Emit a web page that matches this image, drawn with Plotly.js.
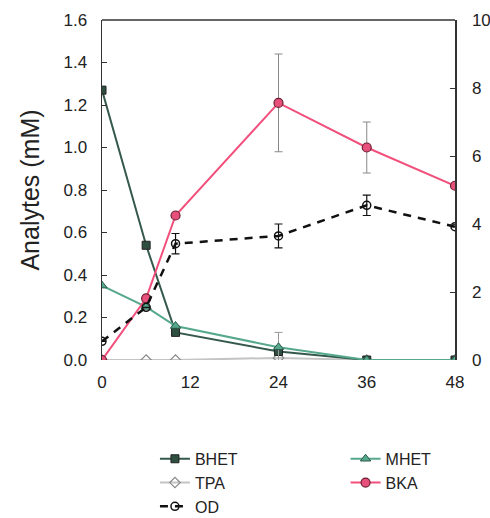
<!DOCTYPE html>
<html><head><meta charset="utf-8">
<script src="https://cdn.plot.ly/plotly-3.0.1.min.js"></script>
<style>body{margin:0;background:#fff}#g{width:490px;height:518px}</style>
</head><body><div id="g"></div>
<script>
const time = [0, 6, 10, 24, 36, 48];
const bhet = [1.27, 0.54, 0.13, 0.04, 0.0, 0.0];
const mhet = [0.35, 0.25, 0.16, 0.06, 0.0, 0.0];
const mhetErr = [0, 0, 0, 0.07, 0, 0];
const tpa = [0, 0, 0, 0.01, 0, 0];
const bka = [0.0, 0.29, 0.68, 1.21, 1.0, 0.82];
const bkaErr = [0, 0, 0, 0.23, 0.12, 0];
const od = [0.55, 1.55, 3.42, 3.65, 4.55, 3.92];
const odErr = [0, 0, 0.3, 0.35, 0.3, 0];
const xTicks = [0, 12, 24, 36, 48];

const f = 'Liberation Sans, Arial, sans-serif';
const traces = [
  {x: time, y: tpa, name: 'TPA', mode: 'lines+markers', line: {color: '#c4c4c4', width: 2},
   marker: {symbol: 'diamond-open', size: 8, color: '#888', line: {width: 1.2}}, legend: 'legend', legendrank: 2},
  {x: time, y: bhet, name: 'BHET', mode: 'lines+markers', line: {color: '#35594a', width: 2},
   marker: {symbol: 'square', size: 8, color: '#2f4f40', line: {color: '#222', width: 1}}, legend: 'legend', legendrank: 1},
  {x: time, y: mhet, name: 'MHET', mode: 'lines+markers', line: {color: '#56a88c', width: 2},
   error_y: {type: 'data', array: mhetErr, color: '#999', thickness: 1, width: 4},
   marker: {symbol: 'triangle-up', size: 9, color: '#56a88c', line: {color: '#2d5a4a', width: 1}}, legend: 'legend2', legendrank: 1},
  {x: time, y: bka, name: 'BKA', mode: 'lines+markers', line: {color: '#f2507c', width: 2},
   error_y: {type: 'data', array: bkaErr, color: '#888', thickness: 1, width: 4},
   marker: {symbol: 'circle', size: 9, color: '#e8507c', line: {color: '#6a2030', width: 1.2}}, legend: 'legend2', legendrank: 2},
  {x: time, y: od, name: 'OD', yaxis: 'y2', mode: 'lines+markers', line: {color: '#111', width: 2.5, dash: '8px,7px'},
   error_y: {type: 'data', array: odErr, color: '#111', thickness: 1.2, width: 4},
   marker: {symbol: 'circle-open', size: 8, color: '#111', line: {width: 1.5}}, legend: 'legend', legendrank: 3}
];
const legendCommon = {orientation: 'v', yref: 'container', y: 0.147, yanchor: 'top', xanchor: 'left',
  font: {size: 16}, traceorder: 'normal', tracegroupgap: 0, bgcolor: 'rgba(0,0,0,0)'};
const layout = {
  width: 490, height: 518,
  margin: {l: 102, r: 35, t: 20, b: 158},
  paper_bgcolor: '#fff', plot_bgcolor: '#fff',
  font: {family: f, size: 17, color: '#222'},
  showlegend: true,
  xaxis: {range: [0, 48], tickvals: xTicks, ticktext: xTicks.map(String), showgrid: false, zeroline: false,
          showline: false, ticks: '', tickfont: {size: 17}, ticklabelstandoff: 10, automargin: false},
  yaxis: {range: [0, 1.6], dtick: 0.2, tickformat: '.1f', showgrid: false, zeroline: false,
          showline: true, linecolor: '#333', linewidth: 1.5, ticks: 'inside', ticklen: 5, tickcolor: '#333',
          tickfont: {size: 17}, ticklabelstandoff: 10, automargin: false,
          title: {text: 'Analytes (mM)', font: {size: 25}, standoff: 16}},
  yaxis2: {range: [0, 10], dtick: 2, overlaying: 'y', side: 'right', showgrid: false, zeroline: false,
           showline: true, linecolor: '#333', linewidth: 1.5, ticks: 'inside', ticklen: 5, tickcolor: '#333',
           tickfont: {size: 17}, ticklabelstandoff: 12, automargin: false},
  shapes: [{type: 'line', xref: 'paper', yref: 'paper', x0: 0, x1: 1, y0: 1, y1: 1, line: {color: '#333', width: 1.5}}],
  legend: Object.assign({}, legendCommon, {x: 0.15}),
  legend2: Object.assign({}, legendCommon, {x: 0.69})
};
Plotly.newPlot('g', traces, layout, {displayModeBar: false, staticPlot: true});
</script></body></html>
